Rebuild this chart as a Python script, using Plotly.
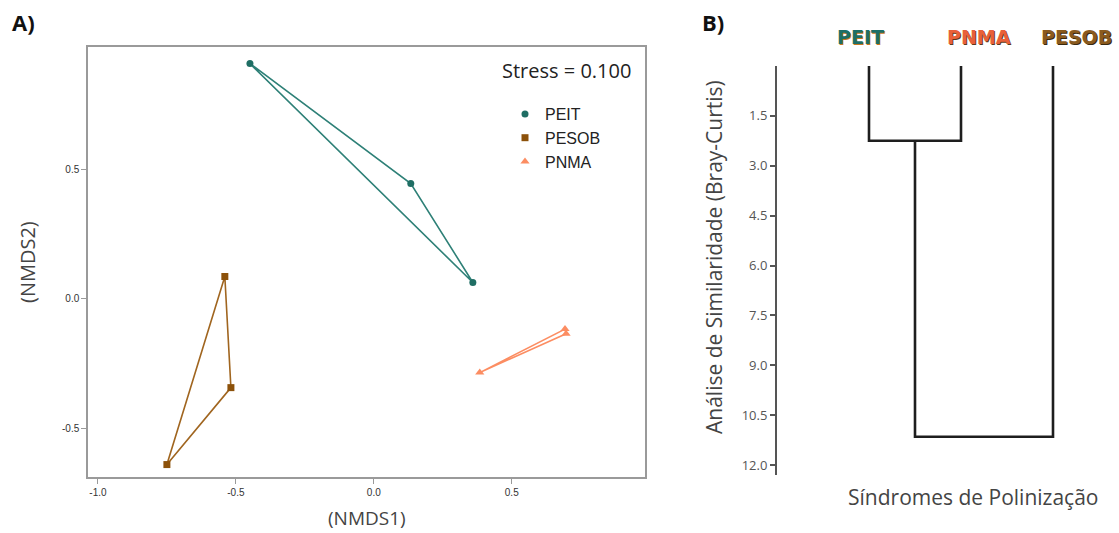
import plotly.graph_objects as go

W, H = 1119, 533

# ---------------- Data ----------------
groups = ["PEIT", "PESOB", "PNMA"]
peit_x = [-0.449, 0.134, 0.359]
peit_y = [0.907, 0.444, 0.062]
pesob_x = [-0.540, -0.518, -0.750]
pesob_y = [0.085, -0.344, -0.641]
pnma_x = [0.384, 0.693, 0.697]
pnma_y = [-0.286, -0.118, -0.136]
stress = 0.100

x_ticks = [-1.0, -0.5, 0.0, 0.5]
y_ticks = [-0.5, 0.0, 0.5]

leaves = ["PEIT", "PNMA", "PESOB"]
leaf_pos = [1, 2, 3]
merge_heights = [2.25, 11.15]   # PEIT+PNMA, then +PESOB
dend_ticks = [1.5, 3.0, 4.5, 6.0, 7.5, 9.0, 10.5, 12.0]

marker_colors = {"PEIT": "#1f6e64", "PESOB": "#8c510a", "PNMA": "#fc8d62"}
symbols = {"PEIT": "circle", "PESOB": "square", "PNMA": "triangle-up"}
marker_sizes = {"PEIT": 7, "PESOB": 7, "PNMA": 8}
line_colors = {"PEIT": "#2e8077", "PESOB": "#a0651f", "PNMA": "#fc8d62"}

data = {"PEIT": (peit_x, peit_y), "PESOB": (pesob_x, pesob_y), "PNMA": (pnma_x, pnma_y)}


def px(x):
    return x / W


def py(y):
    return 1 - y / H


fig = go.Figure()

# ---------------- Panel A: NMDS ----------------
for g in groups:
    xs, ys = data[g]
    fig.add_trace(go.Scatter(
        x=xs + [xs[0]], y=ys + [ys[0]], mode="lines",
        line=dict(color=line_colors[g], width=1.6),
        showlegend=False, hoverinfo="skip", xaxis="x", yaxis="y"))
for g in groups:
    xs, ys = data[g]
    fig.add_trace(go.Scatter(
        x=xs, y=ys, mode="markers", name=g,
        marker=dict(symbol=symbols[g], color=marker_colors[g], size=marker_sizes[g]),
        xaxis="x", yaxis="y"))

# ---------------- Panel B: dendrogram ----------------
l1, l2, l3 = leaf_pos
h1, h2 = merge_heights
mid12 = (l1 + l2) / 2
seg_x = [l1, l1, l2, l2, None, mid12, mid12, l3, l3]
seg_y = [0, h1, h1, 0, None, h1, h2, h2, 0]
fig.add_trace(go.Scatter(
    x=seg_x, y=seg_y, mode="lines",
    line=dict(color="#1e1e1e", width=2.6),
    showlegend=False, hoverinfo="skip", xaxis="x2", yaxis="y2"))

axA_line = "#9a9a9a"
fig.update_layout(
    width=W, height=H,
    margin=dict(l=0, r=0, t=0, b=0),
    paper_bgcolor="white", plot_bgcolor="white",
    xaxis=dict(domain=[px(88), px(645)], range=[-1.036, 0.983],
               tickvals=x_ticks, ticktext=[f"{v:.1f}" for v in x_ticks],
               showgrid=False, zeroline=False,
               showline=True, linecolor=axA_line, linewidth=1.5, mirror=True,
               ticks="outside", ticklen=5, tickcolor=axA_line,
               tickfont=dict(family="Liberation Sans, Arial", size=10, color="#333")),
    yaxis=dict(domain=[py(477), py(47)], range=[-0.689, 0.971],
               tickvals=y_ticks, ticktext=[f"{v:.1f}" for v in y_ticks],
               showgrid=False, zeroline=False,
               showline=True, linecolor=axA_line, linewidth=1.5, mirror=True,
               ticks="outside", ticklen=5, tickcolor=axA_line,
               tickfont=dict(family="Liberation Sans, Arial", size=10, color="#333")),
    xaxis2=dict(domain=[px(777), 1.0], range=[0, (W - 777) / 92.0],
                visible=False, anchor="y2"),
    yaxis2=dict(domain=[py(475), py(66)], range=[12.3, 0], autorange=False,
                anchor="x2", tickvals=dend_ticks,
                ticktext=[f"{v:.1f}" for v in dend_ticks],
                showgrid=False, zeroline=False,
                showline=True, linecolor="#555", linewidth=2,
                ticks="outside", ticklen=5, tickcolor="#555", tickwidth=1.5,
                tickfont=dict(family="Open Sans", size=13, color="#555")),
    legend=dict(x=px(505), y=py(97), xanchor="left", yanchor="top",
                bgcolor="rgba(0,0,0,0)",
                font=dict(family="Liberation Sans, Arial", size=16, color="#222"),
                tracegroupgap=0, itemwidth=30),
)

ann = []
ann.append(dict(text="<b>A)</b>", x=px(10), y=py(22), xref="paper", yref="paper",
                xanchor="left", yanchor="middle", showarrow=False,
                font=dict(family="Open Sans", size=22, color="#111")))
ann.append(dict(text="<b>B)</b>", x=px(700), y=py(22), xref="paper", yref="paper",
                xanchor="left", yanchor="middle", showarrow=False,
                font=dict(family="Open Sans", size=22, color="#111")))
ann.append(dict(text=f"Stress = {stress:.3f}", x=px(633), y=py(71), xref="paper", yref="paper",
                xanchor="right", yanchor="middle", showarrow=False,
                font=dict(family="Open Sans", size=20, color="#222")))
ann.append(dict(text="(NMDS2)", x=px(27), y=py(262), xref="paper", yref="paper",
                textangle=-90, xanchor="center", yanchor="middle", showarrow=False,
                font=dict(family="Open Sans", size=20, color="#444")))
ann.append(dict(text="(NMDS1)", x=px(367), y=py(518), xref="paper", yref="paper",
                xanchor="center", yanchor="middle", showarrow=False,
                font=dict(family="Open Sans", size=19, color="#444")))
ann.append(dict(text="Análise de Similaridade (Bray-Curtis)", x=px(714), y=py(257),
                xref="paper", yref="paper", textangle=-90,
                xanchor="center", yanchor="middle", showarrow=False,
                font=dict(family="Open Sans", size=21, color="#444")))
ann.append(dict(text="Síndromes de Polinização", x=px(973), y=py(497),
                xref="paper", yref="paper",
                xanchor="center", yanchor="middle", showarrow=False,
                font=dict(family="Open Sans", size=21, color="#444")))

leaf_label_px = {"PEIT": 860, "PNMA": 979, "PESOB": 1076}
leaf_text_col = {"PEIT": "#1d6e66", "PNMA": "#e8603a", "PESOB": "#8a5a1e"}
leaf_shadow = {"PEIT": "1px 1px 0px #c8761e", "PNMA": "1px 1px 0px #5a3a1a",
               "PESOB": "1px 1px 0px #3a2a10"}
for lf in leaves:
    ann.append(dict(text=f"<b>{lf}</b>", x=px(leaf_label_px[lf]), y=py(37),
                    xref="paper", yref="paper", xanchor="center", yanchor="middle",
                    showarrow=False,
                    font=dict(family="DejaVu Sans", size=19, color=leaf_text_col[lf],
                              shadow=leaf_shadow[lf])))
fig.update_layout(annotations=ann)

fig.write_html("out.html", config={"displayModeBar": False},
               post_script="document.body.style.margin='0';document.body.style.padding='0';")
